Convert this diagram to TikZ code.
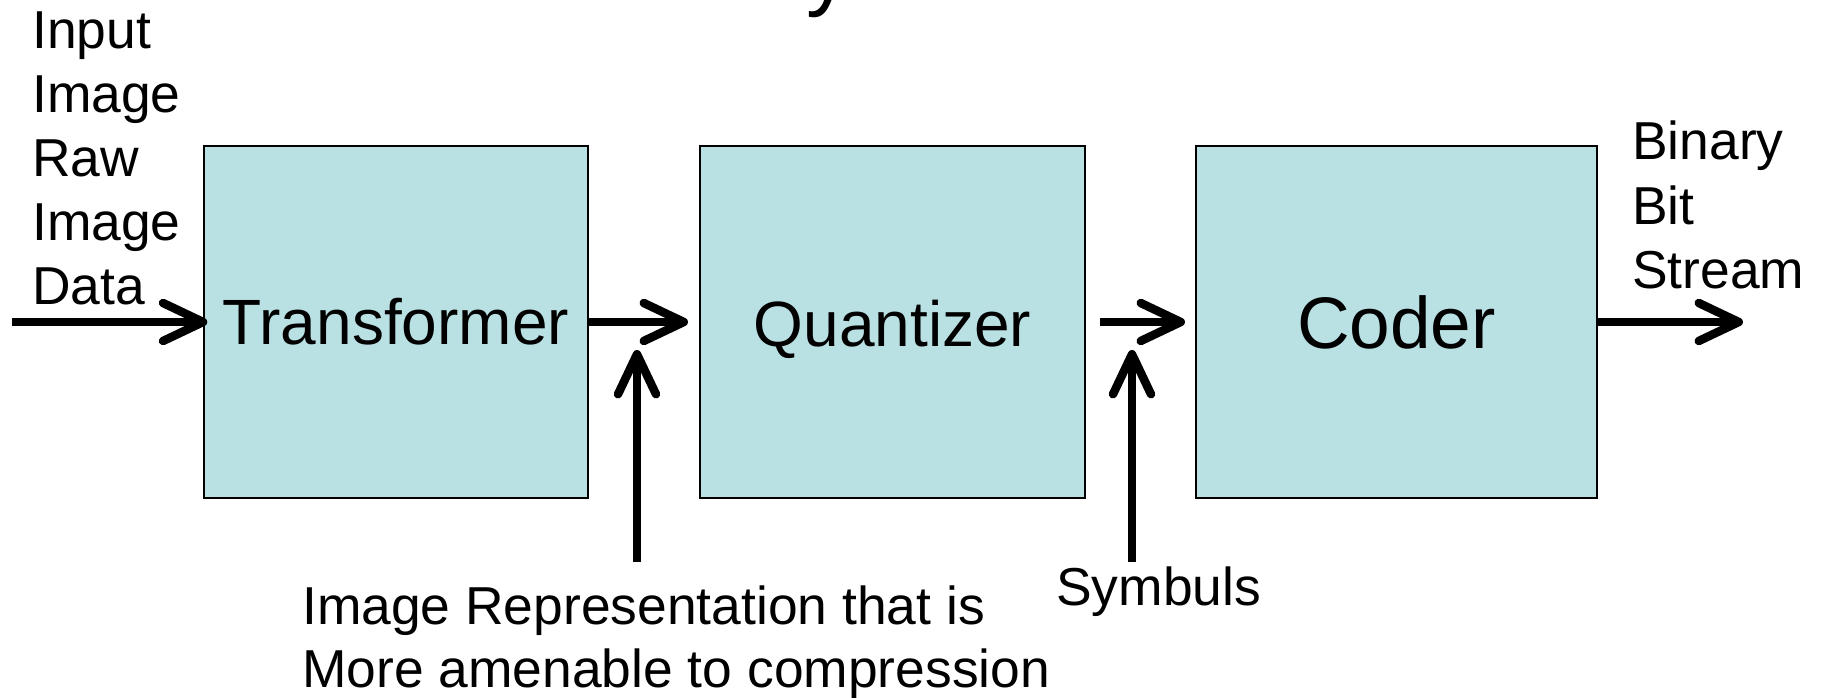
\documentclass[tikz,border=0pt]{standalone}
\usepackage{fontspec}
\setmainfont{Liberation Sans}
\usetikzlibrary{arrows.meta}
\definecolor{boxfill}{HTML}{B9E0E3}
\begin{document}
\begin{tikzpicture}[x=1pt,y=-1pt,
  stage/.style={draw=black, line width=1.4pt, fill=boxfill, inner sep=0pt,
                minimum height=352pt},
  lbl/.style={anchor=base west, inner sep=0pt, font=\fontsize{53.4}{64}\selectfont},
  flow/.style={line width=8.5pt,
               -{Straight Barb[length=40pt,width=38pt,line cap=round,line join=round]}},
]
\useasboundingbox (0,0) rectangle (1821,698);

% tail of the heading letter above the page edge
\node[anchor=base west, inner sep=0pt, font=\fontsize{88}{88}\selectfont] (ttl) at (806,-0.5) {y};

% processing stages
\node[stage, minimum width=384pt, font=\fontsize{64}{64}\selectfont] (T) at (396,322) {Transformer};
\node[stage, minimum width=385pt] (Q) at (892.5,322) {};
\node[anchor=base, inner sep=0pt, font=\fontsize{64}{64}\selectfont] (Qt) at (892.5,346) {Quantizer};
\node[stage, minimum width=401pt, font=\fontsize{73}{73}\selectfont] (C) at (1396.5,322) {Coder};

% input label
\node[lbl] (in1) at (32,48.5) {Input};
\node[lbl] (in2) at (32,112.5) {Image};
\node[lbl] (in3) at (32,176.5) {Raw};
\node[lbl] (in4) at (32,240.5) {Image};
\node[lbl] (in5) at (32,304.5) {Data};

% output label
\node[lbl] (out1) at (1632,160) {Binary};
\node[lbl] (out2) at (1632,224) {Bit};
\node[lbl] (out3) at (1632,288) {Stream};

% intermediate labels
\node[lbl] (rep1) at (302,624) {Image Representation that is};
\node[lbl] (rep2) at (302,687) {More amenable to compression};
\node[lbl] (sym) at (1056,605) {Symbuls};

% free ends of the connectors
\coordinate (src) at (12,322);
\coordinate (tipQ) at (688,322);
\coordinate (startC) at (1100,322);
\coordinate (tipC) at (1185,322);
\coordinate (sink) at (1743,322);
\coordinate (repTop) at (637,350);
\coordinate (repBot) at (637,562);
\coordinate (symTop) at (1132,350);
\coordinate (symBot) at (1132,562);

% connectors
\draw[flow] (src) -- ([xshift=4pt]T.west);
\draw[flow] (T.east) -- (tipQ);
\draw[flow] (startC) -- (tipC);
\draw[flow] (C.east) -- (sink);
\draw[flow] (repBot) -- (repTop);
\draw[flow] (symBot) -- (symTop);
\end{tikzpicture}
\end{document}
